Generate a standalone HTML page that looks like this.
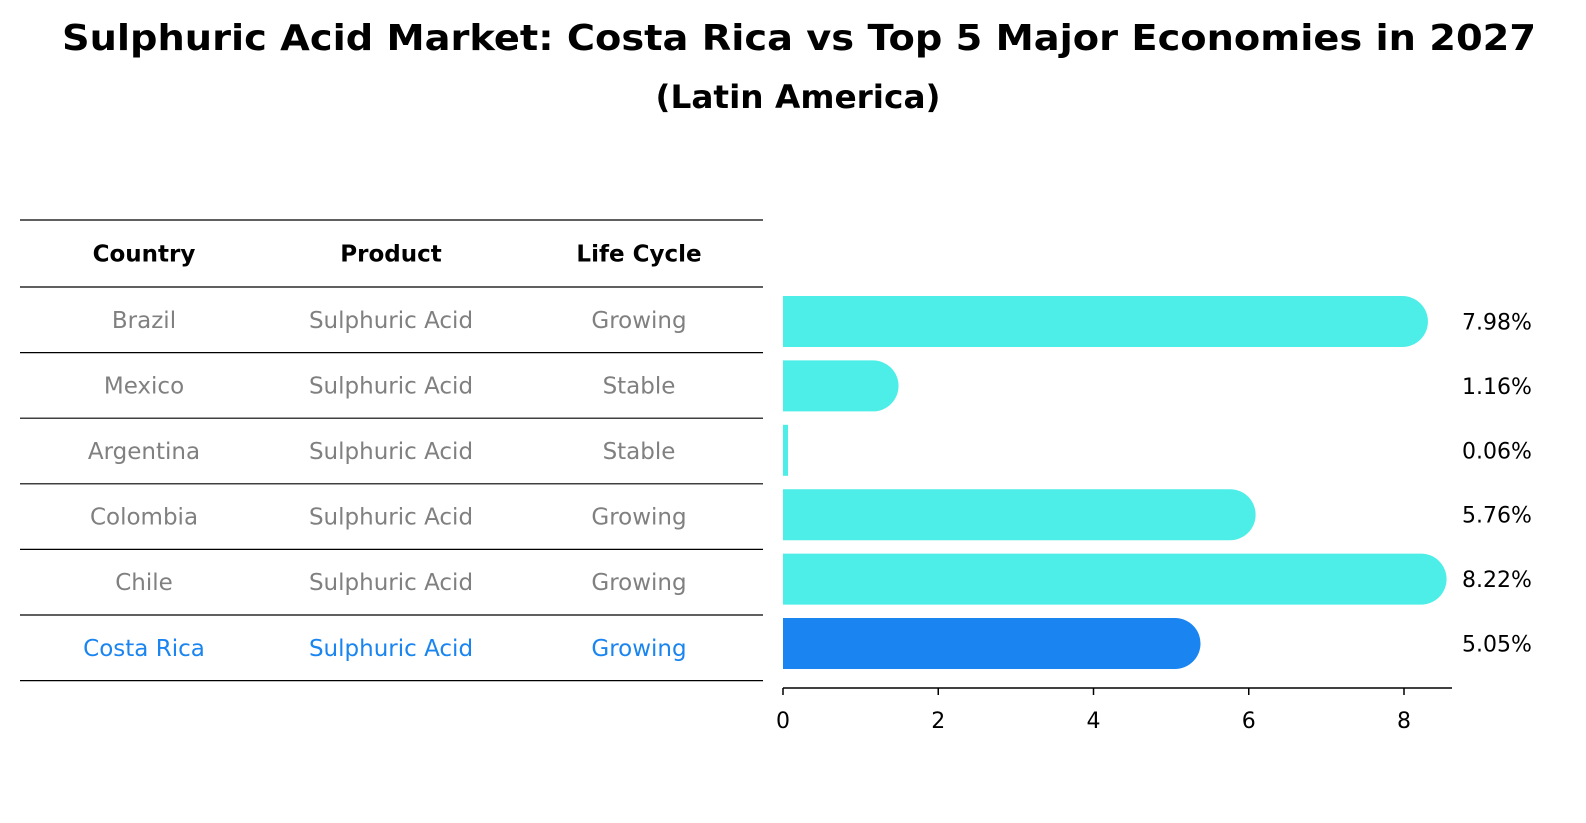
<!DOCTYPE html>
<html><head><meta charset="utf-8"><style>
body{margin:0;background:#fff;font-family:"DejaVu Sans","Liberation Sans",sans-serif;}
svg{display:block}
</style></head><body>
<svg width="1586" height="823">
<text x="799" y="50" text-anchor="middle" font-size="36" font-weight="bold" textLength="1474" lengthAdjust="spacingAndGlyphs">Sulphuric Acid Market: Costa Rica vs Top 5 Major Economies in 2027</text>
<text x="798" y="108" text-anchor="middle" font-size="32" font-weight="bold" textLength="285" lengthAdjust="spacingAndGlyphs">(Latin America)</text>
<g id="table"></g>
<g id="bars"></g>
</svg>
<script>
const countries=["Brazil","Mexico","Argentina","Colombia","Chile","Costa Rica"];
const products=["Sulphuric Acid","Sulphuric Acid","Sulphuric Acid","Sulphuric Acid","Sulphuric Acid","Sulphuric Acid"];
const lifeCycles=["Growing","Stable","Stable","Growing","Growing","Growing"];
const values=[7.98,1.16,0.06,5.76,8.22,5.05];
const ticks=[0,2,4,6,8];
const NS="http://www.w3.org/2000/svg";
function mk(tag,attrs,parent,text){const e=document.createElementNS(NS,tag);for(const k in attrs)e.setAttribute(k,attrs[k]);if(text!==undefined)e.textContent=text;parent.appendChild(e);return e;}
const tbl=document.getElementById('table');
const rowH=65.6, tableTop=220, hdrH=67;
const colX=[144,391,639];
function rowY(i){return tableTop+hdrH+i*rowH;}
for(let i=0;i<=countries.length+1;i++){
  const y=i==0?tableTop:rowY(i-1);
  const l=mk('line',{x1:20,x2:763,y1:y,y2:y,stroke:'#000','stroke-width':1.2},tbl);
  
  
}
["Country","Product","Life Cycle"].forEach((h,j)=>{
  const t=mk('text',{x:colX[j],y:tableTop+hdrH/2+8,'text-anchor':'middle','font-size':23,'font-weight':'bold'},tbl,h);
  
  
});
countries.forEach((c,i)=>{
  const col=i==countries.length-1?'#1a85f0':'#808080';
  [c,products[i],lifeCycles[i]].forEach((v,j)=>{
    const t=mk('text',{x:colX[j],y:rowY(i)+rowH/2+8,'text-anchor':'middle','font-size':23,fill:col},tbl,v);
    
    
  });
});
const g=document.getElementById('bars');
const x0=783, scale=(1404-783)/8;
function xs(v){return x0+v*scale;}
const bh=51;
values.forEach((v,i)=>{
  const y=296+i*64.4;
  const col=i==values.length-1?'#1a85f0':'#4deee8';
  const w=xs(v)-x0;
  let el;
  if(w>20){
    const r=bh/2;
    el=mk('path',{d:`M${x0},${y} H${x0+w} A${r},${r} 0 0 1 ${x0+w},${y+bh} H${x0} Z`,fill:col},g);
  } else {
    el=mk('rect',{x:x0,y:y,width:Math.max(w,5),height:bh,fill:col},g);
  }
  
  
  const t=mk('text',{x:1462,y:y+bh/2+8,'font-size':22},g,v.toFixed(2)+'%');
  
  
});
const ax=mk('line',{x1:x0,x2:1452,y1:688,y2:688,stroke:'#000','stroke-width':1.5},g);


ticks.forEach(v=>{
  const tl=mk('line',{x1:xs(v),x2:xs(v),y1:688,y2:695,stroke:'#000','stroke-width':1.5},g);
  
  
  const t=mk('text',{x:xs(v),y:728,'text-anchor':'middle','font-size':22},g,String(v));
  
  
});
</script>
</body></html>
